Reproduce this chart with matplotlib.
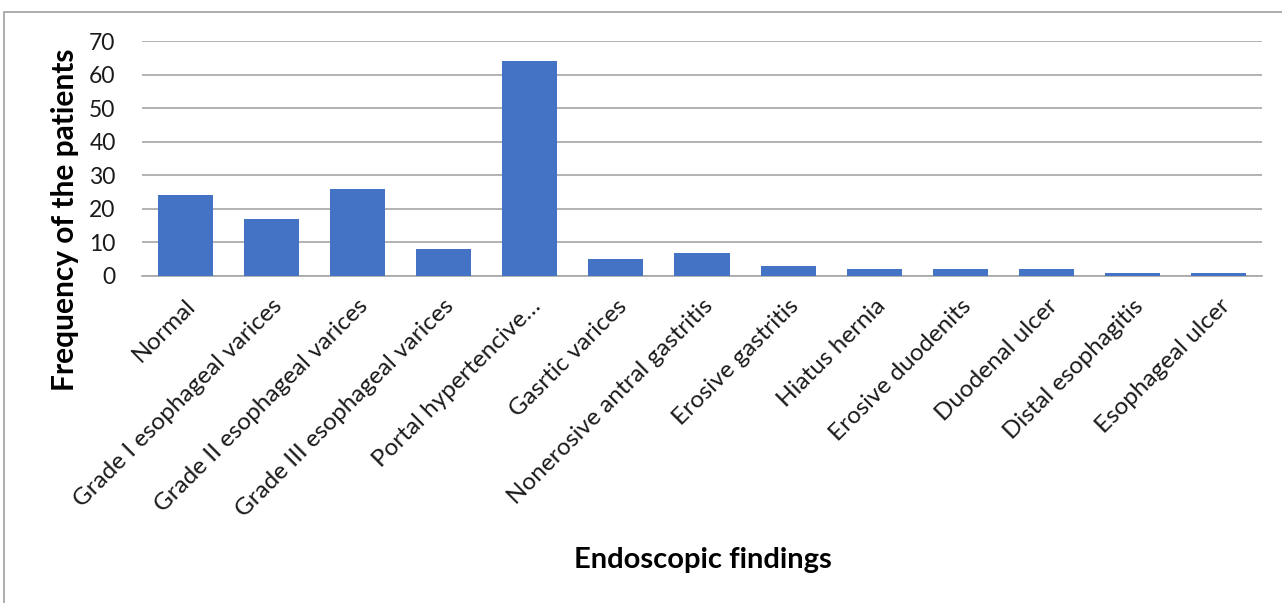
import matplotlib.pyplot as plt
from matplotlib.patches import Rectangle
import numpy as np

categories = ['Normal', 'Grade I esophageal varices', 'Grade II esophageal varices',
              'Grade III esophageal varices', 'Portal hypertencive…', 'Gasrtic varices',
              'Nonerosive antral gastritis', 'Erosive gastritis', 'Hiatus hernia',
              'Erosive duodenits', 'Duodenal ulcer', 'Distal esophagitis', 'Esophageal ulcer']
counts = [24, 17, 26, 8, 64, 5, 7, 3, 2, 2, 2, 1, 1]
y_ticks = [0, 10, 20, 30, 40, 50, 60, 70]

plt.rcParams['font.family'] = ['Lato', 'DejaVu Sans']

fig = plt.figure(figsize=(12.82, 6.03), dpi=100)
ax = fig.add_axes([142 / 1282, 1 - 276 / 603, 1120 / 1282, 235 / 603])

x = np.arange(len(categories))
ax.bar(x, counts, width=0.64, color='#4472C4', zorder=3)

ax.set_xlim(-0.5, len(categories) - 0.5)
ax.set_ylim(0, 70)
ax.set_yticks(y_ticks)
ax.set_yticklabels([str(t) for t in y_ticks], fontsize=16.5, color='#1a1a1a')
ax.set_xticks(x)
ax.set_xticklabels(categories, rotation=45, ha='right', rotation_mode='anchor',
                   fontsize=17.5, color='#1a1a1a')
ax.tick_params(axis='y', length=0, pad=19)
ax.tick_params(axis='x', length=0, pad=14)

ax.grid(axis='y', color='#A6A6A6', linewidth=1.2, zorder=0)
for s in ['left', 'right', 'top']:
    ax.spines[s].set_visible(False)
ax.spines['bottom'].set_color('#A6A6A6')
ax.spines['bottom'].set_linewidth(1.2)

fig.text(65 / 1282, 1 - 220 / 603, 'Frequency of the patients', fontsize=21.5,
         fontweight='bold', rotation=90, ha='center', va='center')
fig.text(703 / 1282, 1 - 560 / 603, 'Endoscopic findings', fontsize=21,
         fontweight='bold', ha='center', va='center')

fig.patches.append(Rectangle((4 / 1282, -0.1), 1.2, 1.1 - 12 / 603,
                             transform=fig.transFigure, fill=False,
                             edgecolor='#A0A0A0', linewidth=1.2))

fig.savefig('out.png', dpi=100)
